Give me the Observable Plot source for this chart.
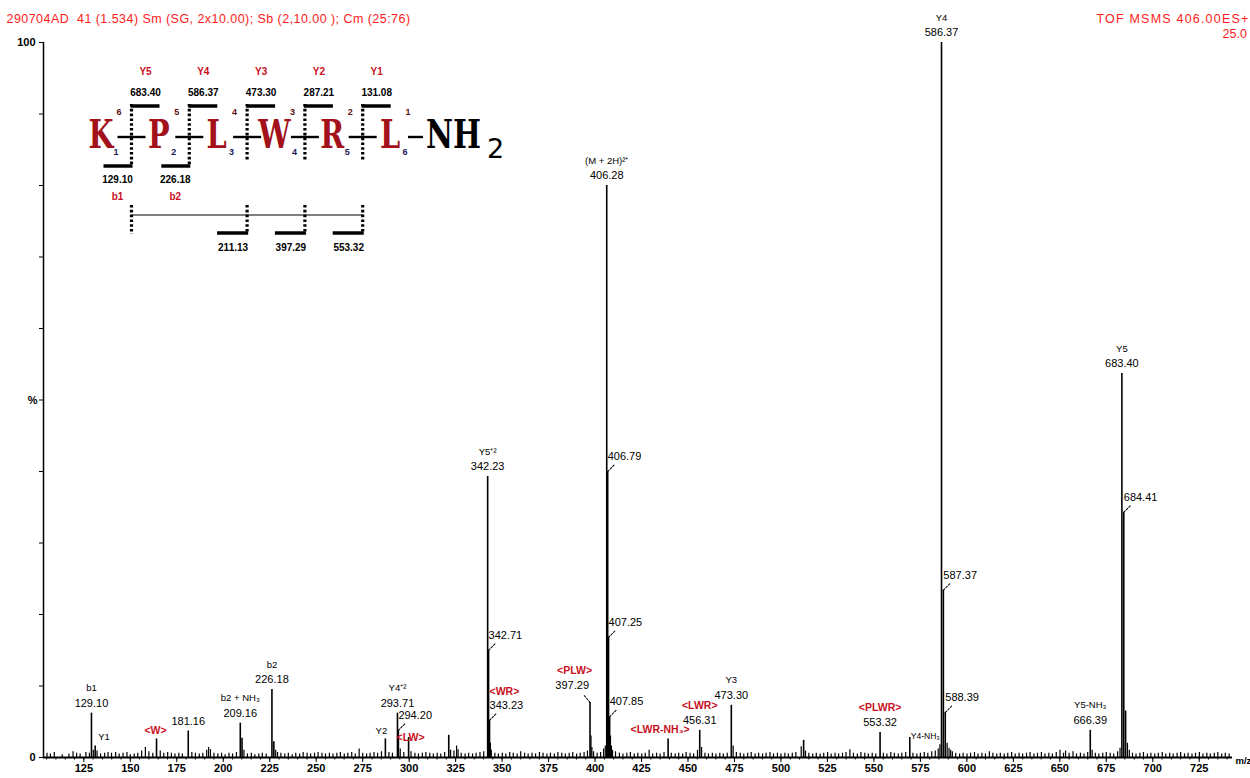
<!DOCTYPE html>
<html><head><meta charset="utf-8">
<script src="https://cdn.jsdelivr.net/npm/d3@7"></script>
<script src="https://cdn.jsdelivr.net/npm/@observablehq/plot@0.6"></script>
<style>body{margin:0;background:#fff;} svg{display:block;}</style>
</head><body><div id="chart"></div>
<script>
// ---------- data ----------
const mzDomain = [103.3, 742.9];
const xTickValues = d3.range(125, 726, 25);
const yTickValues = d3.range(0, 101, 10);

const headerLeft = "290704AD  41 (1.534) Sm (SG, 2x10.00); Sb (2,10.00 ); Cm (25:76)";
const headerRight = "TOF MSMS 406.00ES+";
const headerRight2 = "25.0";

// labelled / prominent peaks (m/z, % intensity)
const majorMz  = [129.10, 131.10, 164.10, 181.16, 209.16, 210.10, 226.18, 227.20, 287.21, 293.71, 294.20, 299.70, 321.30,
                  342.23, 342.71, 343.23, 397.29, 406.28, 406.79, 407.25, 407.85, 439.30, 456.31, 473.30, 512.20, 553.32,
                  569.30, 586.37, 587.37, 588.39, 666.39, 683.40, 684.41, 685.40];
const majorPct = [6.2, 1.6, 2.6, 3.7, 4.8, 2.7, 9.5, 2.2, 2.6, 6.2, 3.8, 2.8, 3.1,
                  39.3, 15.0, 5.2, 7.7, 80.0, 40.0, 16.8, 5.7, 2.6, 3.8, 7.3, 2.4, 3.5,
                  2.8, 100, 23.4, 6.3, 3.8, 53.7, 34.3, 6.5];

// small baseline peaks (m/z, % intensity)
const minorPeaks = [
 [105.2,0.6],[107.0,0.5],[109.1,0.7],[113.4,0.4],[117.0,0.5],[119.2,0.8],[121.1,0.6],[123.0,0.5],[126.1,0.7],[128.0,0.6],
 [130.1,1.0],[132.1,0.9],[134.0,0.5],[136.2,0.6],[138.0,0.7],[139.9,0.6],[142.1,0.7],[144.0,0.5],[146.1,0.6],[148.2,0.7],
 [150.0,0.4],[152.1,0.5],[154.0,0.6],[156.1,0.9],[158.1,1.4],[160.0,0.8],[162.1,0.6],[166.1,0.9],[168.0,0.6],[170.1,0.7],
 [172.1,0.6],[174.0,0.5],[176.1,0.6],[178.0,0.5],[183.1,0.7],[185.0,0.6],[187.1,0.5],[189.0,0.6],[191.1,1.0],[192.1,1.4],
 [193.1,1.1],[195.0,0.6],[197.1,0.5],[199.1,0.6],[201.0,0.4],[203.1,0.6],[205.0,0.5],[207.1,0.7],[211.1,1.0],[213.0,0.5],
 [215.1,0.6],[217.0,0.4],[219.1,0.5],[221.0,0.6],[223.1,0.5],[228.2,1.0],[229.2,0.7],[231.0,0.6],[233.1,0.5],[235.0,0.6],
 [237.1,0.4],[239.0,0.6],[241.1,0.5],[243.0,0.7],[245.1,0.6],[247.0,0.5],[249.1,0.6],[251.0,0.7],[253.1,0.6],[255.0,0.5],
 [257.1,0.6],[259.0,0.5],[261.1,0.6],[263.0,0.7],[265.1,0.5],[267.0,0.6],[269.1,0.7],[271.0,0.5],[273.1,1.2],[275.0,0.6],
 [277.1,0.5],[279.0,0.6],[281.1,0.7],[283.0,0.6],[285.1,0.8],[289.1,0.7],[291.0,0.6],[295.2,1.2],[297.1,0.7],[301.0,0.8],
 [303.1,0.6],[305.0,0.5],[307.1,0.6],[309.0,0.7],[311.1,0.6],[313.0,0.5],[315.1,0.6],[317.0,0.5],[319.1,0.7],[322.3,1.0],
 [324.1,0.9],[325.5,1.6],[326.3,1.1],[328.0,0.6],[330.1,0.5],[332.0,0.6],[334.1,0.5],[336.0,0.6],[338.1,0.7],[340.1,0.8],
 [343.7,2.0],[344.2,1.0],[346.1,0.6],[348.0,0.5],[350.1,0.6],[352.0,0.5],[354.1,0.7],[356.0,0.6],[358.1,0.5],[360.0,0.8],
 [362.1,0.6],[364.0,0.5],[366.1,0.6],[368.0,0.5],[370.1,0.7],[372.0,0.6],[374.1,0.5],[376.0,0.6],[378.1,0.5],[380.0,0.7],
 [382.1,0.6],[384.0,0.5],[386.1,0.6],[388.0,0.7],[390.1,0.5],[392.0,0.6],[394.1,0.7],[395.9,0.9],[397.8,3.0],[398.3,1.4],
 [399.2,0.8],[401.1,0.6],[403.0,0.7],[404.6,1.2],[405.5,1.6],[408.3,3.0],[408.8,1.6],[409.4,1.0],[411.0,0.8],[413.1,0.6],
 [415.0,0.5],[417.1,0.6],[419.0,0.7],[421.1,0.5],[423.0,0.6],[425.1,0.5],[427.0,0.6],[429.1,1.0],[431.0,0.5],[433.1,0.6],
 [435.0,0.5],[437.1,0.7],[441.0,0.6],[443.1,0.5],[445.0,0.6],[447.1,0.5],[449.0,0.7],[451.1,0.6],[453.0,0.5],[455.1,1.0],
 [457.3,1.4],[459.1,0.6],[461.0,0.5],[463.1,0.6],[465.0,0.5],[467.1,0.6],[469.0,0.5],[471.1,0.6],[474.3,1.6],[476.0,0.7],
 [478.1,0.6],[480.0,0.5],[482.1,0.6],[484.0,0.7],[486.1,0.5],[488.0,0.6],[490.1,0.5],[492.0,0.6],[494.1,0.7],[496.0,0.5],
 [498.1,0.6],[500.0,0.5],[502.1,0.6],[504.0,0.5],[506.1,0.6],[508.0,0.7],[510.9,1.5],[513.2,0.9],[515.0,0.6],[517.1,0.5],
 [519.0,0.6],[521.1,0.5],[523.0,0.6],[525.1,0.7],[527.0,0.5],[529.1,0.6],[531.0,0.5],[533.1,0.6],[535.0,0.7],[537.1,1.1],
 [539.0,0.6],[541.1,0.5],[543.0,0.7],[545.1,0.6],[547.0,0.5],[549.1,0.6],[551.0,0.5],[555.1,0.6],[557.0,0.5],[559.1,0.7],
 [561.0,0.6],[563.1,0.5],[565.0,0.6],[567.1,0.7],[571.0,0.6],[573.1,0.5],[575.0,0.6],[577.1,0.7],[579.0,0.6],[581.1,0.8],
 [583.0,0.9],[584.6,1.2],[585.5,1.8],[589.4,2.0],[590.4,1.3],[591.3,1.0],[592.2,0.8],[594.0,0.6],[596.1,0.5],[598.0,0.6],
 [600.1,0.5],[602.0,0.6],[604.1,0.7],[606.0,0.5],[608.1,0.6],[610.0,0.5],[612.1,0.8],[614.0,0.6],[616.1,0.5],[618.0,0.6],
 [620.1,0.5],[622.0,0.6],[624.1,0.7],[626.0,0.5],[628.1,0.6],[630.0,0.5],[632.1,0.6],[634.0,0.7],[636.1,0.5],[638.0,0.6],
 [640.1,0.7],[642.0,0.5],[644.1,0.6],[646.0,0.5],[648.1,0.7],[650.1,1.0],[652.0,0.6],[653.1,0.9],[655.0,0.6],[657.1,0.8],
 [659.0,0.5],[661.1,0.6],[663.0,0.5],[665.0,0.7],[667.4,1.0],[669.1,0.6],[671.0,0.5],[673.1,0.6],[675.0,0.7],[677.1,0.6],
 [679.0,0.5],[681.1,0.8],[682.4,1.3],[686.4,2.0],[687.4,1.0],[689.1,0.6],[691.0,0.5],[693.1,0.6],[695.0,0.7],[697.1,0.5],
 [699.0,0.6],[701.1,0.5],[703.0,0.6],[705.1,0.7],[707.0,0.5],[709.1,0.6],[711.0,0.5],[713.1,0.6],[715.0,0.7],[717.1,0.5],
 [719.0,0.6],[721.1,0.5],[723.0,0.6],[725.1,0.7],[727.0,0.5],[729.1,0.6],[731.0,0.5],[733.1,0.6],[735.0,0.7],[737.1,0.5],
 [739.0,0.6],[741.1,0.5]
];

// labels centred above the peak (ion name + m/z)
const topLabelMz   = [129.10, 181.16, 209.16, 226.18, 293.71, 342.23, 406.28, 456.31, 473.30, 553.32, 586.37, 666.39, 683.40];
const topLabelName = ["b1", "", "b2 + NH₃", "b2", "Y4⁺²", "Y5⁺²", "(M + 2H)²⁺", "<LWR>", "Y3", "<PLWR>", "Y4", "Y5-NH₃", "Y5"];
// labels to the right of a peak, with leader
const sideLabelMz   = [294.20, 342.71, 343.23, 406.79, 407.25, 407.85, 587.37, 588.39, 684.41];
const sideLabelName = ["", "", "<WR>", "", "", "", "", "", ""];
// label to the left of a peak, with leader
const leftLabelMz   = [397.29];
const leftLabelName = ["<PLW>"];
// ion names only
const ionOnlyMz   = [131.10, 164.10, 287.21, 299.70, 439.30, 569.30];
const ionOnlyName = ["Y1", "<W>", "Y2", "<LW>", "<LWR-NH₃>", "Y4-NH₃"];

// peptide fragment map
const residues   = ["K", "P", "L", "W", "R", "L"];
const yIonNames  = ["Y5", "Y4", "Y3", "Y2", "Y1"];
const yIonMz     = ["683.40", "586.37", "473.30", "287.21", "131.08"];
const bIonNames  = ["b1", "b2"];
const bIonMz     = ["129.10", "226.18"];
const internalMz = ["211.13", "397.29", "553.32"];

// ---------- build ----------
const pctOf = new Map(majorMz.map((m, i) => [m, majorPct[i]]));
const major = majorMz.map((m, i) => ({mz: m, pct: majorPct[i]}));
const minor = minorPeaks.map(([mz, pct]) => ({mz, pct}));
const isFrag = s => s.startsWith("<");
const RED = "#c8101e";
const font = "'Liberation Sans', Arial, sans-serif";

const topData = topLabelMz.map((m, i) => ({mz: m, pct: pctOf.get(m), name: topLabelName[i], value: m.toFixed(2)}));
const sideData = sideLabelMz.map((m, i) => ({mz: m, pct: pctOf.get(m), name: sideLabelName[i], value: m.toFixed(2)}));
const leftData = leftLabelMz.map((m, i) => ({mz: m, pct: pctOf.get(m), name: leftLabelName[i], value: m.toFixed(2)}));
// placement of name-only labels (pixels): [dx, dy, anchor]
const ionOnlyPlace = [[3, -9, "start"], [-1, -8, "middle"], [-4, -8, "middle"], [2, 0, "middle"], [-8, -9, "middle"], [1, -1, "start"]];
const ionData = ionOnlyMz.map((m, i) => ({mz: m, pct: pctOf.get(m), name: ionOnlyName[i],
  dx: ionOnlyPlace[i][0], dy: ionOnlyPlace[i][1], anchor: ionOnlyPlace[i][2]}));

const leader = {draw(context, l) { context.moveTo(0, 0); context.lineTo(0, -l); }};

const nameMarks = (data, opts) => [
  Plot.text(data.filter(d => d.name && !isFrag(d.name)), {...opts, text: "name", fill: "black", fontSize: 9.5}),
  Plot.text(data.filter(d => d.name && isFrag(d.name)), {...opts, text: "name", fill: RED, fontSize: 10.5, fontWeight: "bold"})
];

const ionMarks = ionData.flatMap(d =>
  Plot.text([d], {x: "mz", y: "pct", text: "name", dx: d.dx, dy: d.dy, textAnchor: d.anchor,
    fill: isFrag(d.name) ? RED : "black", fontSize: isFrag(d.name) ? 10.5 : (d.name.length > 3 ? 8.5 : 9.5),
    fontWeight: isFrag(d.name) ? "bold" : "normal"})
);

const chart = Plot.plot({
  width: 1250, height: 778,
  marginLeft: 43, marginRight: 18, marginTop: 42, marginBottom: 21,
  style: {fontFamily: font, fontSize: "11px", color: "black", background: "white", overflow: "visible"},
  x: {domain: mzDomain},
  y: {domain: [0, 100]},
  marks: [
    Plot.axisY({ticks: yTickValues, tickSize: 4, tickPadding: 4, tickFormat: d => (d === 0 || d === 100) ? String(d) : "", label: null, fontSize: 11, fontWeight: "bold"}),
    Plot.axisX({ticks: d3.range(105, 741, 5), tickSize: 2.5, tickFormat: () => "", label: null}),
    Plot.axisX({ticks: xTickValues, tickSize: 5, tickPadding: 2, label: null, fontSize: 11, fontWeight: "bold"}),
    Plot.ruleX(minor, {x: "mz", y1: 0, y2: "pct", stroke: "black", strokeWidth: 1.2}),
    Plot.ruleX(major, {x: "mz", y1: 0, y2: "pct", stroke: "black", strokeWidth: 1.6}),
    Plot.ruleY([0], {stroke: "black", strokeWidth: 1.8}),
    Plot.ruleX([mzDomain[0]], {y1: 0, y2: 100, stroke: "black", strokeWidth: 1.5}),
    // axis labels
    Plot.text(["%"], {x: () => mzDomain[0], y: () => 50, dx: -6, textAnchor: "end", fontSize: 11, fontWeight: "bold"}),
    Plot.text(["m/z"], {x: () => mzDomain[1], y: () => 0, dx: 3, dy: 3, textAnchor: "start", fontSize: 9.5, fontWeight: "bold"}),
    // header
    Plot.text([headerLeft], {frameAnchor: "top-left", dx: -37, dy: -24, lineAnchor: "middle", textAnchor: "start", fill: "#ff1a1a", fontSize: 12.5}),
    Plot.text([headerRight], {frameAnchor: "top-right", dx: 17, dy: -24, lineAnchor: "middle", textAnchor: "end", fill: "#ff1a1a", fontSize: 12.5}),
    Plot.text([headerRight2], {frameAnchor: "top-right", dx: -10, dy: -9, lineAnchor: "middle", textAnchor: "start", fill: "#ff1a1a", fontSize: 12.5}),
    // top labels
    Plot.text(topData, {x: "mz", y: "pct", text: "value", dy: -10, fontSize: 11}),
    ...nameMarks(topData, {x: "mz", y: "pct", dy: -25}),
    // side labels
    Plot.vector(sideData, {x: "mz", y: "pct", length: 10, rotate: 45, anchor: "start", shape: leader, stroke: "black", strokeWidth: 1, strokeDasharray: "2,1.5"}),
    Plot.text(sideData, {x: "mz", y: "pct", text: "value", dx: 0, dy: -15, textAnchor: "start", fontSize: 11}),
    ...nameMarks(sideData, {x: "mz", y: "pct", dx: 0, dy: -29, textAnchor: "start"}),
    // left label
    Plot.vector(leftData, {x: "mz", y: "pct", length: 10, rotate: -40, anchor: "start", shape: leader, stroke: "black", strokeWidth: 1, strokeDasharray: "2,1.5"}),
    Plot.text(leftData, {x: "mz", y: "pct", text: "value", dx: -1, dy: -17, textAnchor: "end", fontSize: 11}),
    ...nameMarks(leftData, {x: "mz", y: "pct", dx: 2, dy: -32, textAnchor: "end"}),
    // name-only labels
    ...ionMarks
  ]
});
document.getElementById("chart").appendChild(chart);

const svg = d3.select(chart);
svg.selectAll("text").filter(function() { return this.textContent === headerRight || this.textContent === headerLeft; })
  .attr("letter-spacing", function() { return this.textContent === headerRight ? 1.2 : 0.45; });

// ---------- peptide fragmentation map (inset) ----------
const g = svg.append("g").attr("font-family", font).attr("text-anchor", "middle");
const step = 57.8, letter0 = 101, sep0 = 131.5;
const letterX = i => letter0 + i * step;
const sepX = i => sep0 + i * step;
const serif = "'DejaVu Serif', 'Liberation Serif', serif";
const dotted = (x, y1, y2) => g.append("line").attr("x1", x).attr("x2", x).attr("y1", y1).attr("y2", y2)
  .attr("stroke", "black").attr("stroke-width", 3.2).attr("stroke-dasharray", "2.6,2.2");
const bar = (x1, x2, y) => g.append("line").attr("x1", x1).attr("x2", x2).attr("y1", y).attr("y2", y)
  .attr("stroke", "black").attr("stroke-width", 3.5);
const label = (x, y, t, fill, size, weight) => g.append("text").attr("x", x).attr("y", y).attr("text-anchor", "middle")
  .attr("dominant-baseline", "middle").attr("fill", fill).attr("font-size", size).attr("font-weight", weight).text(t);

// bonds
residues.slice(0, -1).forEach((_, i) => bar(sepX(i) - 14, sepX(i) + 14, 137).attr("stroke-width", 2.4));
bar(letterX(5) + 18, letterX(5) + 33, 137).attr("stroke-width", 2.4);
// residues
residues.forEach((r, i) => {
  g.append("text").attr("transform", `translate(${letterX(i)},148) scale(0.72,1)`).attr("text-anchor", "middle")
    .attr("font-family", serif).attr("font-weight", "bold")
    .attr("font-size", 40).attr("fill", "#a3121a").text(r);
  label(letterX(i) + 18, 113, String(residues.length - i), "#5a1010", 9, "bold");
  label(letterX(i) + (r === "W" ? 20 : 15), 153, String(i + 1), "#1a1a5a", 9, "bold");
});
g.append("text").attr("transform", `translate(${letterX(5) + 36},148) scale(0.74,1)`).attr("text-anchor", "start")
  .attr("font-family", serif).attr("font-weight", "bold").attr("font-size", 40).attr("fill", "black").text("NH");
g.append("text").attr("x", letterX(5) + 97).attr("y", 158).attr("text-anchor", "start")
  .attr("font-family", "'DejaVu Sans', sans-serif").attr("font-size", 27).attr("fill", "black").text("2");

// y-ion brackets
yIonNames.forEach((n, i) => {
  const x = sepX(i);
  dotted(x, 104, i < bIonNames.length ? 166 : 160);
  bar(x - 1, x + 28, 106);
  label(x + 14, 72, n, RED, 10, "bold");
  label(x + 14, 93, yIonMz[i], "black", 10, "bold");
});
// b-ion brackets
bIonNames.forEach((n, i) => {
  const x = sepX(i);
  bar(x - 28, x + 1, 166);
  label(x - 14, 180, bIonMz[i], "black", 10, "bold");
  label(x - 14, 197, n, RED, 10, "bold");
});
// internal fragments
g.append("line").attr("x1", sepX(0)).attr("x2", sepX(4)).attr("y1", 215).attr("y2", 215).attr("stroke", "black").attr("stroke-width", 1.2);
dotted(sepX(0), 205, 234);
internalMz.forEach((t, k) => {
  const x = sepX(k + 2);
  dotted(x, 205, 234);
  bar(x - 30, x + 1, 233);
  label(x - 14, 248, t, "black", 10, "bold");
});
</script>
</body></html>
